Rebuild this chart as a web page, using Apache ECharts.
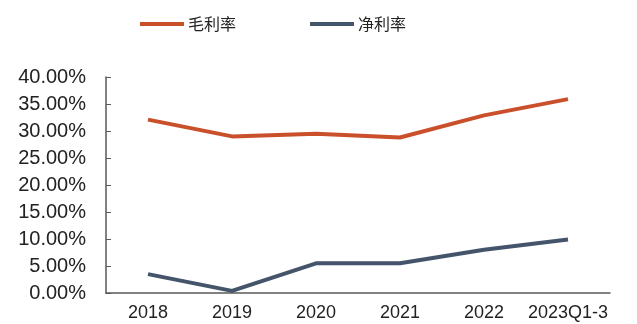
<!DOCTYPE html>
<html>
<head>
<meta charset="utf-8">
<script src="https://cdn.jsdelivr.net/npm/echarts@6/dist/echarts.min.js"></script>
<style>
html,body{margin:0;padding:0;background:#fff;}
#chart{width:637px;height:324px;}
</style>
</head>
<body>
<div id="chart"></div>
<script>
// Categories and margin series (percent)
const categories = ['2018', '2019', '2020', '2021', '2022', '2023Q1-3'];
const grossMargin = [32.1, 29.0, 29.5, 28.8, 32.9, 35.9];
const netMargin = [3.5, 0.4, 5.5, 5.5, 8.0, 9.9];
const seriesNames = ['毛利率', '净利率'];

const chart = echarts.init(document.getElementById('chart'));
const axisColor = '#595959';
const fontFamily = 'Arial, "Liberation Sans", sans-serif';

chart.setOption({
  animation: false,
  legend: {
    top: 11,
    left: 135,
    itemGap: 74,
    itemWidth: 44,
    itemHeight: 4,
    icon: 'rect',
    textStyle: { fontSize: 16, color: '#222', fontFamily: '"Noto Sans CJK SC", sans-serif', padding: [0, 0, 0, -1] },
    data: seriesNames
  },
  grid: { left: 106, right: 27, top: 77, bottom: 31 },
  xAxis: {
    type: 'category',
    data: categories,
    boundaryGap: true,
    axisLine: { lineStyle: { color: axisColor, width: 1.5 } },
    axisTick: { inside: true, length: 5, lineStyle: { color: axisColor } },
    axisLabel: { fontSize: 18, margin: 11, interval: 0, color: '#222', fontFamily: fontFamily }
  },
  yAxis: {
    type: 'value',
    min: 0,
    max: 40,
    interval: 5,
    splitLine: { show: false },
    axisLine: { show: true, lineStyle: { color: axisColor, width: 1.5 } },
    axisTick: { show: true, inside: true, length: 5, lineStyle: { color: axisColor } },
    axisLabel: { fontSize: 20, margin: 20, color: '#222', fontFamily: fontFamily, formatter: v => v.toFixed(2) + '%' }
  },
  series: [
    {
      name: seriesNames[0],
      type: 'line',
      data: grossMargin,
      symbol: 'none',
      color: '#C9502A',
      lineStyle: { width: 4, color: '#C9502A' }
    },
    {
      name: seriesNames[1],
      type: 'line',
      data: netMargin,
      symbol: 'none',
      color: '#44546A',
      lineStyle: { width: 4, color: '#44546A' }
    }
  ]
});
</script>
</body>
</html>
